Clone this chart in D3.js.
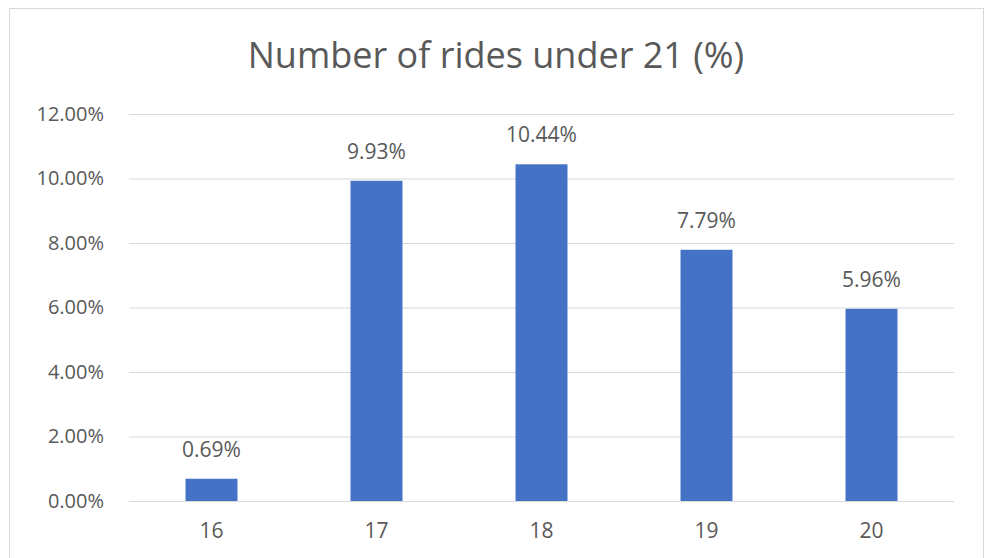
<!DOCTYPE html>
<html>
<head>
<meta charset="utf-8">
<script src="https://cdn.jsdelivr.net/npm/d3@7"></script>
<style>
  body { margin: 0; background: #fff; }
  text { font-family: "Open Sans", "Liberation Sans", sans-serif; fill: #595959; }
</style>
</head>
<body>
<div class="chart"></div>
<script>
var ages = ["16", "17", "18", "19", "20"];
var shares = [0.0069, 0.0993, 0.1044, 0.0779, 0.0596];
var yTicks = [0, 0.02, 0.04, 0.06, 0.08, 0.10, 0.12];
var title = "Number of rides under 21 (%)";

var W = 988, H = 558;
var margin = {top: 114, right: 34, bottom: 57, left: 129},
    width = W - margin.left - margin.right,
    height = H - margin.top - margin.bottom;

var svg = d3.select(".chart").append("svg")
    .attr("width", W)
    .attr("height", H);

// chart frame
svg.append("rect")
    .attr("x", 9.5).attr("y", 8.5)
    .attr("width", 974).attr("height", 580)
    .attr("fill", "none")
    .attr("stroke", "#d9d9d9");

svg.append("text")
    .attr("x", 496).attr("y", 68)
    .attr("text-anchor", "middle")
    .style("font-size", "36px")
    .text(title);

var g = svg.append("g").attr("transform", "translate(" + margin.left + "," + margin.top + ")");

var x = d3.scaleBand().domain(ages).range([0, width])
    .paddingInner(0.685).paddingOuter(0.3425);
var y = d3.scaleLinear().domain([0, 0.12]).range([height, 0]);

var yAxis = d3.axisLeft(y).tickValues(yTicks).tickSize(-width)
    .tickFormat(d3.format(".2%")).tickPadding(25);

g.append("g").attr("class", "y axis").call(yAxis)
  .call(function(a) {
    a.select(".domain").remove();
    a.selectAll("line").attr("stroke", "#d9d9d9");
    a.selectAll("text").style("font-size", "20px");
  });

var xAxis = d3.axisBottom(x).tickSize(0).tickPadding(22);
g.append("g").attr("class", "x axis")
    .attr("transform", "translate(0," + height + ")")
    .call(xAxis)
  .call(function(a) {
    a.select(".domain").remove();
    a.selectAll("text").style("font-size", "21px");
  });

var data = ages.map(function(a, i) { return {age: a, v: shares[i]}; });

g.selectAll(".bar").data(data)
  .enter().append("rect")
    .attr("class", "bar")
    .attr("x", function(d) { return x(d.age); })
    .attr("width", x.bandwidth())
    .attr("y", function(d) { return y(d.v); })
    .attr("height", function(d) { return height - y(d.v); })
    .attr("fill", "#4472c4");

g.selectAll(".lbl").data(data)
  .enter().append("text")
    .attr("class", "lbl")
    .attr("x", function(d) { return x(d.age) + x.bandwidth() / 2; })
    .attr("y", function(d) { return y(d.v) - 22; })
    .attr("text-anchor", "middle")
    .style("font-size", "21px")
    .text(function(d) { return d3.format(".2%")(d.v); });
</script>
</body>
</html>
